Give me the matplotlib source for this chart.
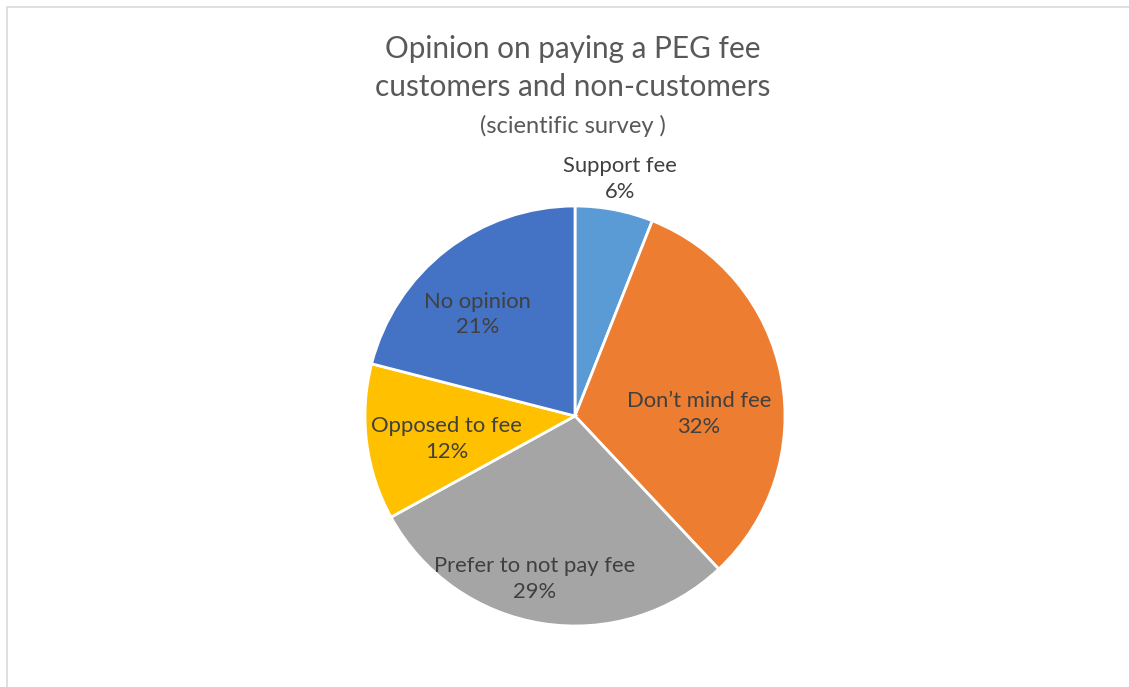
import numpy as np
import matplotlib.pyplot as plt
from matplotlib.patches import Rectangle

# dados do grafico
categorias = ['Support fee', 'Don\u2019t mind fee', 'Prefer to not pay fee', 'Opposed to fee', 'No opinion']
valores = [6, 32, 29, 12, 21]
cores = ['#5B9BD5', '#ED7D31', '#A5A5A5', '#FFC000', '#4472C4']
dist_rotulo = [1.15, 0.59, 0.80, 0.62, 0.67]
ajuste_angulo = [0, -10, -5, 3, 6]

plt.rcParams['font.family'] = ['Lato', 'DejaVu Sans']

W, H = 1129, 687
fig = plt.figure(figsize=(W/100, H/100), dpi=100)

# borda do grafico
fig.patches.append(Rectangle((7/W, -0.01), 1.2, 1 - 7/H + 0.01, transform=fig.transFigure,
                             fill=False, edgecolor='#D9D9D9', linewidth=1.2))

# pizza
cx, cy, r = 575, 416, 210
ax = fig.add_axes([(cx-r)/W, (H-cy-r)/H, 2*r/W, 2*r/H])
wedges, _ = ax.pie(valores, colors=cores, startangle=90, counterclock=False, radius=1,
                   wedgeprops=dict(edgecolor='white', linewidth=2))
ax.set_xlim(-1, 1)
ax.set_ylim(-1, 1)
ax.set_aspect('equal')
ax.axis('off')

total = sum(valores)
for w, cat, v, d, da in zip(wedges, categorias, valores, dist_rotulo, ajuste_angulo):
    ang = np.deg2rad((w.theta1 + w.theta2) / 2 + da)
    ax.text(d*np.cos(ang), d*np.sin(ang), f'{cat}\n{round(100*v/total)}%',
            ha='center', va='center', fontsize=15.8, color='#404040', linespacing=1.35,
            clip_on=False)

# titulo
fig.text(573/W, 1 - 49/H, 'Opinion on paying a PEG fee', ha='center', va='center',
         fontsize=21.4, color='#595959')
fig.text(573/W, 1 - 87/H, 'customers and non-customers', ha='center', va='center',
         fontsize=21.4, color='#595959')
fig.text(573/W, 1 - 126/H, '(scientific survey )', ha='center', va='center',
         fontsize=17, color='#595959')

fig.savefig('out.png', dpi=100)
